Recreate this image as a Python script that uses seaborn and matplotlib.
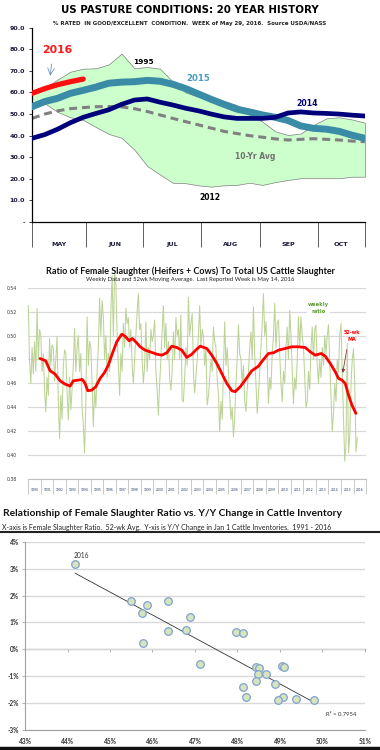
import numpy as np
import pandas as pd
import matplotlib
matplotlib.use("Agg")
import matplotlib.pyplot as plt
from matplotlib.lines import Line2D
from matplotlib.ticker import FuncFormatter, FixedLocator
import seaborn as sns

sns.set_theme(style="white")
plt.rcParams['font.family'] = ['DejaVu Sans']

# ---------------- Panel 1 : pasture conditions ----------------
weeks = list(range(27))
y2016 = [59.6, 61.8, 63.6, 65.0, 66.2]
y2015 = [53.4, 55.8, 57.3, 59.6, 61.0, 62.5, 64.3, 64.8, 65.0, 65.6, 65.2, 63.8,
         61.8, 59.3, 56.8, 54.5, 52.3, 51.0, 49.6, 48.5, 47.0, 44.5, 43.4, 43.0,
         42.0, 40.2, 38.8]
y2014 = [38.8, 40.5, 43.0, 46.0, 48.5, 50.3, 52.0, 54.5, 56.5, 57.0, 55.5, 54.2,
         52.7, 51.5, 50.0, 48.7, 48.0, 48.0, 48.0, 48.5, 50.5, 51.0, 50.5, 50.3,
         50.0, 49.5, 49.1]
avg10 = [48.0, 50.0, 51.5, 52.5, 53.0, 53.4, 53.5, 53.3, 52.5, 51.2, 49.6, 48.0,
         46.5, 45.0, 43.5, 42.0, 41.0, 40.0, 39.3, 38.5, 38.0, 38.3, 38.6, 38.3,
         38.0, 37.5, 37.2]
band_hi = [59.6, 62.0, 66.0, 69.6, 71.0, 71.2, 73.0, 78.0, 71.2, 71.8, 71.0, 65.0,
           60.0, 58.0, 58.0, 56.0, 54.2, 49.5, 46.5, 42.0, 40.3, 41.0, 45.0, 48.0,
           48.5, 47.5, 46.0]
band_lo = [54.5, 55.0, 51.0, 48.5, 47.3, 44.0, 40.8, 39.0, 33.5, 26.0, 22.0, 18.2,
           18.0, 17.0, 16.4, 17.0, 17.2, 18.2, 17.2, 18.5, 19.5, 20.3, 20.3, 20.3,
           20.3, 21.0, 21.0]
months = ['MAY', 'JUN', 'JUL', 'AUG', 'SEP', 'OCT']
month_edges = [0, 4.2, 8.7, 13.2, 17.8, 22.3, 26]
p1_yticks = [0, 10, 20, 30, 40, 50, 60, 70, 80, 90]

# ---------------- Panel 2 : female slaughter ratio ----------------
weekly_ratio = [
    0.525, 0.478, 0.460, 0.490, 0.468, 0.495, 0.470, 0.5225, 0.480, 0.505,   # 1990
    0.500, 0.470, 0.485, 0.455, 0.4364, 0.465, 0.450, 0.4975, 0.475, 0.492,  # 1991
    0.490, 0.462, 0.480, 0.499, 0.445, 0.414, 0.450, 0.430, 0.475, 0.488,    # 1992
    0.485, 0.452, 0.4296, 0.465, 0.438, 0.455, 0.475, 0.506, 0.470, 0.490,   # 1993
    0.500, 0.470, 0.485, 0.440, 0.425, 0.402, 0.445, 0.5155, 0.475, 0.495,   # 1994
    0.490, 0.460, 0.424, 0.455, 0.440, 0.470, 0.490, 0.531, 0.500, 0.529,    # 1995
    0.5155, 0.480, 0.500, 0.465, 0.485, 0.470, 0.520, 0.550, 0.500, 0.553,   # 1996
    0.543, 0.500, 0.474, 0.450, 0.485, 0.470, 0.510, 0.490, 0.5227, 0.510,   # 1997
    0.515, 0.490, 0.505, 0.475, 0.460, 0.480, 0.500, 0.520, 0.535, 0.505,    # 1998
    0.510, 0.480, 0.460, 0.475, 0.5115, 0.470, 0.490, 0.480, 0.505, 0.495,   # 1999
    0.500, 0.513, 0.470, 0.455, 0.4336, 0.460, 0.480, 0.505, 0.525, 0.490,   # 2000
    0.510, 0.480, 0.495, 0.465, 0.4545, 0.470, 0.503, 0.480, 0.515, 0.500,   # 2001
    0.505, 0.480, 0.517, 0.446, 0.4447, 0.465, 0.490, 0.475, 0.532, 0.500,   # 2002
    0.510, 0.5185, 0.470, 0.452, 0.465, 0.480, 0.500, 0.525, 0.490, 0.505,   # 2003
    0.500, 0.475, 0.490, 0.442, 0.449, 0.465, 0.480, 0.470, 0.507, 0.495,    # 2004
    0.490, 0.465, 0.450, 0.420, 0.445, 0.430, 0.470, 0.5115, 0.475, 0.490,   # 2005
    0.470, 0.450, 0.430, 0.440, 0.4155, 0.430, 0.460, 0.480, 0.509, 0.485,   # 2006
    0.480, 0.460, 0.475, 0.445, 0.4366, 0.455, 0.470, 0.490, 0.503, 0.480,   # 2007
    0.524, 0.485, 0.460, 0.435, 0.450, 0.470, 0.490, 0.510, 0.535, 0.500,    # 2008
    0.5115, 0.480, 0.443, 0.465, 0.455, 0.485, 0.500, 0.527, 0.490, 0.510,   # 2009
    0.513, 0.485, 0.460, 0.4447, 0.470, 0.460, 0.490, 0.507, 0.480, 0.521,   # 2010
    0.500, 0.470, 0.443, 0.465, 0.455, 0.480, 0.5157, 0.490, 0.5155, 0.500,  # 2011
    0.490, 0.465, 0.440, 0.4447, 0.470, 0.455, 0.490, 0.507, 0.480, 0.505,   # 2012
    0.5087, 0.475, 0.460, 0.480, 0.465, 0.490, 0.475, 0.500, 0.485, 0.500,   # 2013
    0.509, 0.480, 0.450, 0.420, 0.435, 0.460, 0.445, 0.480, 0.470, 0.500,    # 2014
    0.510, 0.470, 0.430, 0.395, 0.410, 0.4933, 0.402, 0.4155, 0.460, 0.480, # 2015
    0.489, 0.460, 0.403, 0.415,                                              # 2016
]
weekly_time = 1990 + np.arange(len(weekly_ratio)) / 10.0

ma_time = [1990.94, 1991.39, 1991.74, 1992.14, 1992.54, 1992.94, 1993.34, 1993.6,
           1994.0, 1994.32, 1994.54, 1994.75, 1995.07, 1995.39, 1995.74, 1996.08,
           1996.4, 1996.72, 1997.07, 1997.47, 1997.74, 1998.06, 1998.32, 1998.67,
           1998.94, 1999.34, 1999.74, 2000.27, 2000.67, 2001.07, 2001.47, 2001.87,
           2002.27, 2002.67, 2003.07, 2003.4, 2003.74, 2004.27, 2004.67, 2005.07,
           2005.47, 2005.87, 2006.27, 2006.54, 2006.94, 2007.34, 2007.87, 2008.4,
           2008.8, 2009.2, 2009.6, 2010.0, 2010.54, 2011.07, 2011.6, 2012.14,
           2012.54, 2012.94, 2013.42, 2013.74, 2014.14, 2014.54, 2014.8, 2015.07,
           2015.34, 2015.6, 2015.87, 2016.19]
ma_ratio = [0.4808, 0.4789, 0.4706, 0.4678, 0.4622, 0.4594, 0.4578, 0.4622,
            0.4628, 0.4633, 0.4600, 0.4539, 0.4544, 0.4572, 0.4642, 0.4689,
            0.4753, 0.4850, 0.4947, 0.5011, 0.4994, 0.4956, 0.4975, 0.4939,
            0.4906, 0.4878, 0.4864, 0.4844, 0.4836, 0.4856, 0.4911, 0.4900,
            0.4878, 0.4817, 0.4844, 0.4880, 0.4911, 0.4892, 0.4836, 0.4767,
            0.4683, 0.4600, 0.4539, 0.4531, 0.4572, 0.4628, 0.4706, 0.4744,
            0.4800, 0.4850, 0.4856, 0.4878, 0.4892, 0.4906, 0.4906, 0.4900,
            0.4864, 0.4836, 0.4850, 0.4828, 0.4767, 0.4697, 0.4642, 0.4628,
            0.4600, 0.4503, 0.4420, 0.4350]
years = list(range(1990, 2017))
p2_yticks = [0.38, 0.40, 0.42, 0.44, 0.46, 0.48, 0.50, 0.52, 0.54]

# ---------------- Panel 3 : scatter ----------------
fem_ratio = [44.18, 45.49, 45.87, 46.36, 45.75, 46.89, 46.36, 46.80, 45.77, 47.97,
             48.14, 47.12, 48.44, 48.51, 48.49, 48.66, 49.04, 49.09, 48.44, 48.88,
             48.14, 48.19, 49.06, 48.96, 49.38, 49.80]
inv_change = [3.16, 1.78, 1.65, 1.81, 1.36, 1.19, 0.68, 0.72, 0.22, 0.63,
              0.59, -0.56, -0.65, -0.71, -0.92, -0.92, -0.61, -0.67, -1.18, -1.29,
              -1.39, -1.76, -1.78, -1.88, -1.85, -1.88]
p3_xticks = [43, 44, 45, 46, 47, 48, 49, 50, 51]
p3_yticks = [-3, -2, -1, 0, 1, 2, 3, 4]

fig = plt.figure(figsize=(3.8, 7.5), dpi=100)
fig.patch.set_facecolor('white')

# ================= Panel 1 =================
ax1 = fig.add_axes([0.0842, 0.7039, 0.876, 0.2592])
ax1.fill_between(weeks, band_lo, band_hi, facecolor='#CCFFCC', edgecolor='#7f7f7f', lw=0.5, zorder=1)
sns.lineplot(x=weeks, y=avg10, ax=ax1, color='#808080', lw=2.2,
             linestyle=(0, (2.6, 1.6)), estimator=None, zorder=2)
sns.lineplot(x=weeks, y=y2015, ax=ax1, color='#3A8BA5', lw=5.0, estimator=None, zorder=3)
sns.lineplot(x=weeks, y=y2014, ax=ax1, color='#00007A', lw=3.4, estimator=None, zorder=4)
sns.lineplot(x=weeks[:len(y2016)], y=y2016, ax=ax1, color='#FF1010', lw=3.8, estimator=None, zorder=5)
ax1.set_xlim(0, 26)
ax1.set_ylim(0, 90)
ax1.set_yticks(p1_yticks)
ax1.yaxis.set_major_formatter(FuncFormatter(lambda v, p: '-' if v == 0 else f'{v:.1f}'))
ax1.tick_params(axis='y', labelsize=4.6, length=2, width=0.6, pad=3, colors='#1a1a3a', left=True)
for t in ax1.get_yticklabels():
    t.set_fontweight('bold')
centers = [(month_edges[i] + month_edges[i + 1]) / 2 for i in range(len(months))]
ax1.set_xticks(centers)
ax1.set_xticklabels(months, fontsize=4.6, fontweight='bold', color='#1a1a3a')
ax1.xaxis.set_minor_locator(FixedLocator(month_edges))
ax1.tick_params(axis='x', which='major', length=0, pad=14)
ax1.tick_params(axis='x', which='minor', length=18, width=0.6, color='#444444', bottom=True)
for s in ['top', 'right']:
    ax1.spines[s].set_visible(False)
for s in ['left', 'bottom']:
    ax1.spines[s].set_color('black')
    ax1.spines[s].set_linewidth(0.9)
ax1.set_xlabel('')
ax1.set_ylabel('')

ax1.text(2.0, 79.5, '2016', color='#FF1A1A', fontsize=7.8, fontweight='bold', ha='center', va='center')
ax1.annotate('', xy=(1.4, 66.5), xytext=(1.55, 74.5),
             arrowprops=dict(arrowstyle='->', color='#4F81BD', lw=0.5))
ax1.text(8.7, 74.0, '1995', color='black', fontsize=5.3, fontweight='bold', ha='center', va='center')
ax1.text(13.0, 66.7, '2015', color='#4A9CC4', fontsize=6.2, fontweight='bold', ha='center', va='center')
ax1.text(21.5, 55.0, '2014', color='#00007A', fontsize=5.6, fontweight='bold', ha='center', va='center')
ax1.text(17.4, 30.3, '10-Yr Avg', color='#707070', fontsize=5.5, fontweight='bold', ha='center', va='center')
ax1.text(13.9, 11.6, '2012', color='black', fontsize=5.5, fontweight='bold', ha='center', va='center')

fig.text(0.5, 0.9867, 'US PASTURE CONDITIONS: 20 YEAR HISTORY', ha='center', va='center',
         fontsize=7.4, fontweight='bold', color='black')
fig.text(0.5, 0.968, '% RATED  IN GOOD/EXCELLENT  CONDITION.  WEEK of May 29, 2016.  Source USDA/NASS',
         ha='center', va='center', fontsize=4.0, fontweight='bold', color='#222222')

# ================= Panel 2 =================
ax2 = fig.add_axes([0.0745, 0.361, 0.8887, 0.2555])
ax2.set_xlim(1990, 2017)
ax2.set_ylim(0.38, 0.54)
ax2.set_yticks(p2_yticks)
ax2.yaxis.set_major_formatter(FuncFormatter(lambda v, p: f'{v:.2f}'))
ax2.grid(axis='y', color='#D9D9D9', lw=0.9)
ax2.set_axisbelow(True)
sns.lineplot(x=weekly_time, y=weekly_ratio, ax=ax2, color='#BCD396', lw=0.75,
             estimator=None, zorder=2, clip_on=False)
sns.lineplot(x=ma_time, y=ma_ratio, ax=ax2, color='#FF0000', lw=2.0, estimator=None, zorder=3)
ax2.set_xticks([y + 0.5 for y in years])
ax2.set_xticklabels([str(y) for y in years], fontsize=2.2, color='#1F3864')
ax2.xaxis.set_minor_locator(FixedLocator(years + [2017]))
ax2.tick_params(axis='x', which='major', length=0, pad=6.5)
ax2.tick_params(axis='x', which='minor', length=11, width=0.6, color='#BFBFBF', bottom=True)
ax2.tick_params(axis='y', labelsize=3.3, length=0, pad=8, colors='#333333')
for s in ['top', 'right', 'left']:
    ax2.spines[s].set_visible(False)
ax2.spines['bottom'].set_color('#BFBFBF')
ax2.spines['bottom'].set_linewidth(0.8)
ax2.set_xlabel('')
ax2.set_ylabel('')

ax2.text(2013.2, 0.523, 'weekly\nratio', color='#5E9E2E', fontsize=3.8, fontweight='bold',
         ha='center', va='center', linespacing=1.5,
         bbox=dict(facecolor='white', edgecolor='none', pad=0.5), zorder=4)
ax2.text(2015.9, 0.4995, '52-wk\nMA', color='#FF0000', fontsize=3.5, fontweight='bold',
         ha='center', va='center', linespacing=1.4, zorder=4)
ax2.annotate('', xy=(2015.1, 0.4665), xytext=(2015.5, 0.4905),
             arrowprops=dict(arrowstyle='-|>', color='#953735', lw=0.6, mutation_scale=5), zorder=4)

fig.text(0.5, 0.639, 'Ratio of Female Slaughter (Heifers + Cows) To Total US Cattle Slaughter',
         ha='center', va='center', fontsize=6.5, fontweight='bold', color='#111111', family='Lato')
fig.text(0.5, 0.6267, 'Weekly Data and 52wk Moving Average.  Last Reported Week is May 14, 2016',
         ha='center', va='center', fontsize=4.35, color='#222222', family='Lato')

# ================= Panel 3 =================
ax3 = fig.add_axes([0.0658, 0.0267, 0.8947, 0.251])
ax3.set_xlim(43, 51)
ax3.set_ylim(-3, 4)
ax3.set_xticks(p3_xticks)
ax3.set_yticks(p3_yticks)
ax3.xaxis.set_major_formatter(FuncFormatter(lambda v, p: f'{int(round(v))}%'))
ax3.yaxis.set_major_formatter(FuncFormatter(lambda v, p: f'{int(round(v))}%'))
ax3.grid(axis='y', color='#D9D9D9', lw=1.0)
ax3.set_axisbelow(True)
sns.regplot(x=fem_ratio, y=inv_change, ax=ax3, scatter=False, ci=None, truncate=True,
            line_kws=dict(color='#333333', lw=0.6, zorder=2))
sns.scatterplot(x=fem_ratio, y=inv_change, ax=ax3, s=30, color='#D7E4BD',
                edgecolor='#7FA2CF', linewidth=0.9, zorder=3)
sec = ax3.secondary_xaxis(3 / 7)
sec.set_xticks(p3_xticks)
sec.tick_params(axis='x', length=2.5, width=0.6, color='#A0A0A0', labelbottom=False, labeltop=False)
sec.spines['bottom'].set_color('#A0A0A0')
sec.spines['bottom'].set_linewidth(0.9)
ax3.tick_params(axis='x', labelsize=4.7, length=0, pad=6, colors='#333333')
ax3.tick_params(axis='y', labelsize=4.7, length=2.5, width=0.6, color='#A0A0A0', pad=2,
                labelcolor='#333333', left=True)
for t in ax3.get_xticklabels() + ax3.get_yticklabels():
    t.set_family('Lato')
    t.set_fontweight('bold')
for s in ['top', 'right']:
    ax3.spines[s].set_visible(False)
for s in ['left', 'bottom']:
    ax3.spines[s].set_color('#A0A0A0')
    ax3.spines[s].set_linewidth(0.8)
ax3.set_xlabel('')
ax3.set_ylabel('')
ax3.text(44.34, 3.5, '2016', fontsize=4.8, color='#333333', ha='center', va='center', family='Lato')
ax3.text(50.45, -2.43, 'R² = 0.7954', fontsize=4.2, color='#333333', ha='center', va='center', family='Lato')

fig.text(0.008, 0.316, 'Relationship of Female Slaughter Ratio vs. Y/Y Change in Cattle Inventory',
         ha='left', va='center', fontsize=7.4, fontweight='bold', color='#111111', family='Lato')
fig.text(0.006, 0.2973, 'X-axis is Female Slaughter Ratio.  52-wk Avg.  Y-xis is Y/Y Change in Jan 1 Cattle Inventories.  1991 - 2016',
         ha='left', va='center', fontsize=5.0, color='#222222', family='Lato')
fig.add_artist(Line2D([0, 1], [0.2905, 0.2905], transform=fig.transFigure, color='#222222', lw=1.5))
fig.add_artist(Line2D([0, 1], [0.003, 0.003], transform=fig.transFigure, color='#111111', lw=2.5))

fig.savefig('out.png', dpi=100)
